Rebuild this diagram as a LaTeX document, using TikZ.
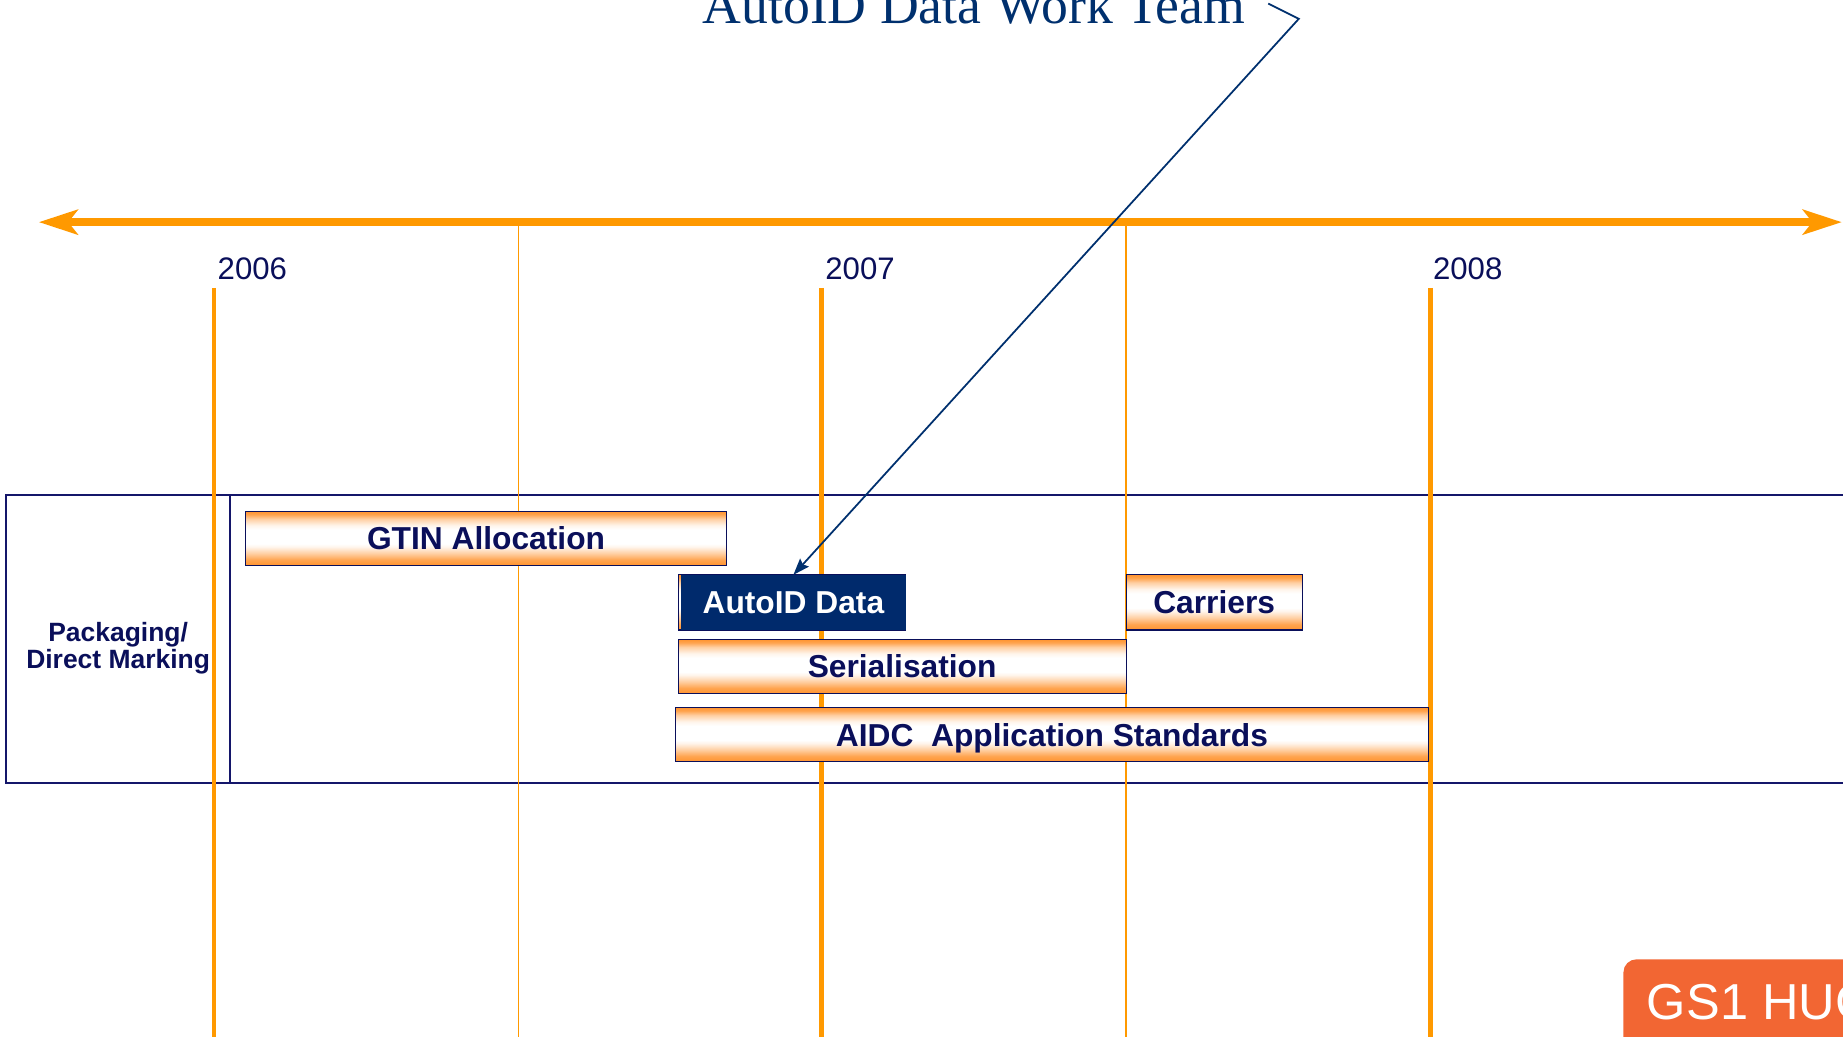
\documentclass[tikz,border=0pt]{standalone}
\usepackage{fontspec}
\setmainfont{Liberation Sans}
\newfontfamily\titlefont{Liberation Serif}
\usetikzlibrary{arrows.meta}
\definecolor{tlorange}{HTML}{FF9900}
\definecolor{lblnavy}{HTML}{0A0F5A}
\definecolor{framenavy}{HTML}{14166A}
\definecolor{boxnavy}{HTML}{002A6C}
\definecolor{barorange}{HTML}{FF9430}
\definecolor{gsorange}{HTML}{F26633}
\definecolor{titlenavy}{HTML}{00306E}
\pgfdeclareverticalshading{barshade}{100bp}{color(0bp)=(barorange); color(25bp)=(barorange); color(30bp)=(barorange!85!white); color(36bp)=(barorange!45!white); color(42bp)=(barorange!10!white); color(45bp)=(white); color(58bp)=(white); color(62bp)=(barorange!10!white); color(68bp)=(barorange!45!white); color(72bp)=(barorange!85!white); color(75bp)=(barorange); color(100bp)=(barorange)}
\begin{document}
\begin{tikzpicture}[x=1pt,y=-1pt,
  yearlbl/.style={font=\fontsize{26.5}{30}\selectfont, text=lblnavy, anchor=base west, inner sep=0pt},
  bar/.style={draw=lblnavy, line width=0.9pt, shading=barshade,
    inner sep=0pt, font=\fontsize{27}{30}\selectfont\bfseries, text=lblnavy, text height=19.4pt, text depth=0pt},
  darkbar/.style={fill=boxnavy, draw=boxnavy, line width=0.9pt, inner sep=0pt,
    font=\fontsize{27}{30}\selectfont\bfseries, text=white, text height=19.4pt, text depth=0pt},
  thickline/.style={draw=tlorange, line width=3.6pt},
  thinline/.style={draw=tlorange, line width=1.2pt},
  frame/.style={draw=framenavy, line width=1.8pt},
  callout/.style={draw=titlenavy, line width=1.5pt}
]
\useasboundingbox (0,0) rectangle (1568,882);
\clip (0,0) rectangle (1568,882);

% title
\node[font=\titlefont\fontsize{45.7}{50}\selectfont, text=titlenavy, anchor=base, inner sep=0pt] (title) at (828.5,20.4) {AutoID Data Work Team};

% timeline
\coordinate (tlL) at (33,189);
\coordinate (tlR) at (1567,189);
\draw[tlorange, line width=7pt, {Stealth[length=33pt,width=21pt,inset=8pt]}-{Stealth[length=33pt,width=21pt,inset=8pt]}] (tlL) -- (tlR);

% years
\node[yearlbl] (y2006) at (185,238) {2006};
\node[yearlbl] (y2007) at (702,238) {2007};
\node[yearlbl] (y2008) at (1219,238) {2008};

% row frame
\draw[frame] (5,421) rectangle (1590,666);
\draw[frame] (195.5,421) -- (195.5,666);
\node[font=\fontsize{22.5}{23.2}\selectfont\bfseries, text=lblnavy, align=center, inner sep=0pt] (pkg) at (100.5,551.5) {Packaging/\\Direct Marking};

% vertical lines
\draw[thickline] (182,245) -- (182,882);
\draw[thickline] (699,245) -- (699,882);
\draw[thickline] (1217,245) -- (1217,882);
\draw[thinline] (441,192) -- (441,882);
\draw[thinline] (958,192) -- (958,882);

% bars
\node[bar, minimum width=409pt, minimum height=46pt] (gtin) at (413.5,458) {GTIN Allocation};
\node[bar, minimum width=193pt, minimum height=47pt] (autoback) at (673.5,512.5) {};
\node[darkbar, minimum width=190pt, minimum height=46pt] (autoid) at (675,512.5) {AutoID Data};
\node[bar, minimum width=150pt, minimum height=47pt] (carriers) at (1033,512.5) {Carriers};
\node[bar, minimum width=381pt, minimum height=46pt] (serial) at (767.5,567) {Serialisation};
\node[bar, minimum width=640pt, minimum height=46pt] (aidc) at (895,625) {AIDC\ \ Application Standards};

% callout
\coordinate (c1) at (1079,3);
\coordinate (c2) at (1105,16);
\draw[callout, -{Stealth[length=14pt,width=10pt,inset=2pt]}] (c1) -- (c2) -- (autoid.north);

% GS1 HUG tab
\node[fill=gsorange, rounded corners=11pt, anchor=north west, inner xsep=20pt, inner ysep=20pt,
  text=white, font=\fontsize{43}{48}\selectfont, text height=30.8pt, text depth=20pt] (gs1) at (1381,816) {GS1 HUG};
\end{tikzpicture}
\end{document}
